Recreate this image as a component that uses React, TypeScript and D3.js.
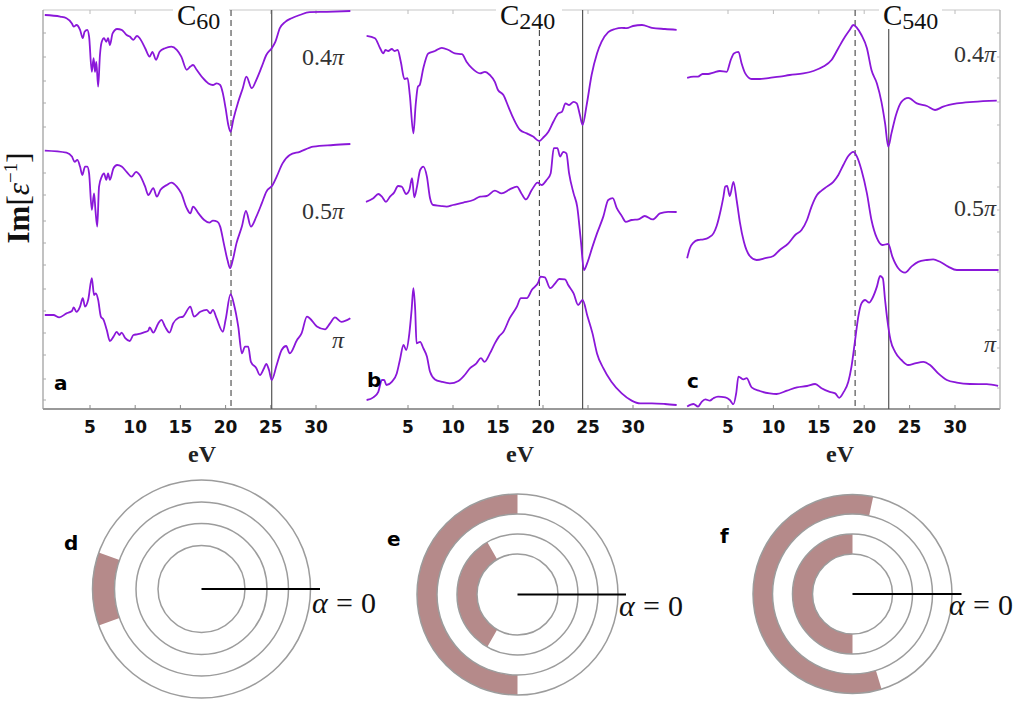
import React from 'react';
import * as d3 from 'd3';

type Pt = [number, number];

// energy axis ticks (eV) and per-panel annotations
const energyTicks = [5, 10, 15, 20, 25, 30];
const panelLetters = ['a', 'b', 'c'];
const clusterSizes = ['60', '240', '540'];
const plasmonDashed = [20.6, 19.6, 19.0];
const plasmonSolid = [25.1, 24.4, 22.7];
const curveLabels = ['0.4', '0.5', ''];
const leftTicks = [94, 88, 82, 76.5, 70.5, 59, 53.5, 47, 41.5, 36, 30, 24.5, 19, 13.5, 7.5, 2.25];
const rightTicks = [94, 88, 82.75, 76.75, 71, 61.5, 55.5, 49.75, 44.25, 38.5, 34.25, 29.75, 24.75, 19.75, 15.25, 10.25, 5.25];

// Im[1/eps] curves (eV, offset intensity)
const c60_04: Pt[] = [[0,98.5],[1.7,98.1],[2.4,97.7],[3,96.4],[3.2,95.6],[3.5,96],[3.9,94.8],[4.2,92.7],[4.4,94.3],[4.7,94.8],[4.9,93.1],[5.2,84.3],[5.4,87.7],[5.55,84.3],[5.7,86.8],[5.9,80.6],[6.1,88.5],[6.3,91.8],[6.55,92.7],[6.8,91.8],[7,92.7],[7.2,91],[7.5,93.9],[8,95],[8.5,94.8],[9.05,93.5],[9.4,93.1],[9.8,92.3],[10.2,93.3],[10.5,92.7],[11.1,90.2],[11.6,88.1],[11.9,89.3],[12.3,87.3],[12.7,89.3],[13.3,90.2],[14,90.6],[14.6,89.8],[15.1,88.1],[15.7,84.8],[16.1,85.6],[16.4,86],[16.8,84.8],[17.5,82.7],[18.1,81.4],[18.6,81],[19,81.4],[19.4,81],[19.7,78.9],[20,75.2],[20.3,71],[20.55,69.3],[20.85,72.3],[21.4,76.8],[21.9,80.2],[22.3,83.1],[22.9,80.2],[23.4,82.3],[24,85.6],[24.5,88.5],[25.1,90.2],[25.5,91.8],[26,95.2],[26.6,96.8],[27.3,97.7],[28.2,98.5],[29.3,99.2],[31.2,99.3],[33.8,99.5]];
const c60_05: Pt[] = [[0,64.6],[2.4,64.1],[3,63.1],[3.3,61.8],[3.6,62.3],[3.9,60.6],[4.15,58.5],[4.45,60.6],[4.7,60.6],[4.9,58.9],[5.2,49.8],[5.45,53.9],[5.6,49.8],[5.8,45.6],[6,55.6],[6.3,58.1],[6.55,58.9],[6.8,57.3],[7,58.9],[7.2,57.3],[7.6,60.2],[8,61],[8.5,60.6],[9.05,59.3],[9.6,58.1],[10.1,59.3],[10.5,58.5],[11.1,55.6],[11.45,53.5],[12,55.2],[12.4,53.1],[12.8,54.8],[13.5,56],[14,56.6],[14.6,55.6],[15.1,53.9],[15.7,50.2],[16.1,48.9],[16.4,50.6],[17,48.9],[17.6,47.3],[18.2,46.6],[18.6,47.1],[19.1,46.8],[19.4,45.6],[19.8,41.4],[20.2,37.3],[20.5,35.2],[20.8,37.3],[21.2,41.4],[21.8,45.6],[22.25,49.5],[22.8,45.6],[23.4,48.1],[24,51.4],[24.5,54.3],[25.2,56],[25.65,58.1],[26.3,61.4],[27.1,63.5],[28.2,64.3],[29.7,65.6],[31.9,66],[33.8,66.25]];
const c60_1: Pt[] = [[0,23.5],[0.95,23.5],[1.6,22.9],[2.4,23.9],[3,24.5],[3.2,25.4],[3.5,24.3],[3.9,25.6],[4.2,27.7],[4.45,25.6],[4.8,27.3],[5.2,32.7],[5.45,28.5],[5.65,28.9],[5.9,27.3],[6.2,23.1],[6.5,22.3],[6.85,19.8],[7.2,17],[7.6,18.1],[7.95,19.3],[8.25,18.5],[8.5,19.1],[8.9,17.7],[9.4,17],[9.8,18.5],[10.3,18.7],[10.9,19.1],[11.45,19.6],[11.6,20.4],[12,19.1],[12.55,21.4],[12.9,22.3],[13.3,20.6],[13.8,19.1],[14.2,21.4],[14.8,22.8],[15.3,23.1],[16.1,25.6],[16.5,23.1],[17.2,24.3],[17.9,24.8],[18.3,23.9],[18.6,24.8],[19,22.7],[19.7,19.3],[20,22.3],[20.55,28.7],[20.9,26.4],[21.4,20.6],[21.8,13.9],[22.15,15.6],[22.5,15.6],[22.8,11.8],[23.4,10.2],[23.8,8.5],[24.25,10.2],[24.5,11.25],[24.8,9.75],[25.1,7.25],[25.65,11],[26.2,14.75],[26.7,15.75],[27.1,13.9],[27.9,17.25],[28.4,18.9],[29,23.1],[29.3,22.7],[30.1,20.6],[31,19.9],[31.55,21.4],[32.1,22.9],[32.8,21.8],[33.8,22.7]];

const c240_04: Pt[] = [[0.4,93.3],[1.33,92.7],[1.9,90.2],[2.25,88.9],[2.5,89.75],[2.8,89.5],[3.2,90],[3.5,89.5],[3.85,89.75],[4.2,86.8],[4.6,82.5],[4.95,82.7],[5.2,78.5],[5.6,68.9],[5.85,76],[6.1,80.6],[6.3,81],[6.7,85.2],[7.25,88.9],[8,89.5],[8.75,90.3],[9.5,89.75],[10.2,88.9],[11,88.7],[11.5,86.8],[12.1,85.2],[13,83.9],[13.55,84.3],[14.1,83.5],[14.65,81.8],[15,79.75],[15.6,78.5],[16.15,75.6],[16.7,72.7],[17.45,69.75],[18.2,68.9],[18.9,68.1],[19.6,67],[20,67.8],[20.6,69.3],[21.15,71.8],[21.7,73.9],[22.1,74.3],[22.5,76.4],[22.9,76],[23.4,76.8],[23.75,76.4],[24.1,73.5],[24.4,71],[24.85,76],[25.4,83.5],[26,88.9],[26.5,91.8],[27.25,94.2],[28,95],[28.75,95.3],[29.3,95.2],[30,95.75],[31,96],[32.1,95.3],[33.55,95],[34.85,94.8]];
const c240_05: Pt[] = [[0.33,51.8],[1.15,52.7],[1.7,53.75],[2.1,53.1],[2.55,51.8],[3,53.1],[3.45,54.1],[3.9,55.75],[4.3,55.6],[4.8,53.75],[5.15,54.75],[5.45,57.7],[5.7,52.9],[6,55.6],[6.35,59.75],[6.7,60.6],[7.1,58.1],[7.45,52.7],[7.8,51],[8.55,50.8],[9.3,50.6],[10,51],[11.15,51.6],[12.25,52.25],[13,53.1],[13.75,53.25],[14.65,54.6],[15.4,53.9],[16.3,54.9],[17.1,55.6],[17.6,53.9],[18.1,52.4],[18.75,54.75],[19.4,56.6],[19.85,56],[20.4,57.25],[20.85,58.9],[21.2,65.2],[21.6,65.2],[21.9,63.1],[22.25,64.3],[22.6,63.9],[22.9,58.9],[23.4,53.9],[23.8,50.6],[24.2,42.25],[24.55,34.75],[24.9,36.4],[25.5,40.6],[26,43.9],[26.7,48.1],[27.25,52.25],[27.75,52.7],[28.2,50.2],[28.75,48.25],[29.2,46.8],[29.85,47.25],[30.6,47.4],[31.3,48.25],[32.2,47.4],[33,48.9],[33.9,49.3],[34.85,49.25]];
const c240_1: Pt[] = [[0.4,2.25],[1.15,2.9],[1.7,4.3],[2.1,7.25],[2.35,7.25],[2.6,6],[3.2,6.8],[3.75,8.9],[4.1,12.25],[4.5,16],[4.8,14.75],[5.15,18.9],[5.4,24.75],[5.6,30.2],[5.8,24.75],[5.95,16.4],[6.35,16.8],[6.7,15.2],[7.1,13.1],[7.45,9.3],[8,7.4],[8.75,6.8],[9.65,6.4],[10.6,7],[11.3,8.5],[11.9,10.2],[12.6,11.4],[13.1,12.7],[13.5,11.8],[14.1,13.9],[14.65,16.4],[15.1,18.1],[15.6,19.3],[16.3,22.7],[17.1,25.6],[17.55,27.7],[18.2,27.7],[18.75,29.75],[19.5,31.8],[19.7,33.1],[20.2,32.9],[20.8,30.2],[21.35,31.4],[21.8,32.5],[22.45,32.4],[22.8,31],[23.4,28.9],[23.9,26],[24.4,27.25],[24.95,23.1],[25.5,18.9],[26,13.9],[26.7,10.2],[27.6,6.8],[28.75,3.9],[29.85,2.1],[30.8,1.4],[32.1,1.4],[33.55,1.25],[34.85,1]];

const c540_04: Pt[] = [[0.5,82.8],[1.2,83.1],[1.7,83.1],[2.2,83.75],[2.8,83.75],[3.4,84.1],[4.1,84.5],[4.85,84.3],[5.3,87.25],[5.65,88.9],[6.15,89.3],[6.5,86.4],[6.9,83.9],[7.6,82.5],[8.5,82.5],[9.6,82.8],[10.7,83.1],[11.8,83.5],[13.3,83.9],[14.4,84.5],[15.5,85.6],[16.4,87.25],[17.15,90.2],[17.9,93.1],[18.4,94.75],[18.8,96],[19.2,95.3],[19.7,93.5],[20.3,90.2],[20.8,84.75],[21.4,81.4],[21.9,76.8],[22.3,71.4],[22.65,65.6],[23,68.9],[23.5,73.5],[24.1,76.8],[24.85,77.8],[25.8,76.4],[26.9,75.75],[27.8,74.75],[28.7,75.6],[30.2,76.4],[32,76.8],[34.6,77.1]];
const c540_05: Pt[] = [[0.5,37.7],[0.8,40.2],[1.2,41.6],[1.7,42.25],[2.3,42.4],[2.9,42.9],[3.4,43.9],[3.75,45.75],[4.2,49.75],[4.5,53.1],[4.7,55.6],[4.9,55.75],[5.2,53.25],[5.6,56.8],[5.95,52.25],[6.3,46.8],[6.75,41.8],[7.4,38.25],[8.15,37.25],[9.1,37.7],[10,38.25],[10.7,39.75],[11.65,41.4],[12.4,43.5],[13.1,44.75],[13.7,47.25],[14.2,50.6],[14.8,53.5],[15.3,54.6],[15.9,55.6],[16.6,56.8],[17.15,58.5],[17.7,61],[18.25,63.25],[18.8,64.3],[19.2,63.1],[19.7,59.75],[20.3,53.9],[20.8,47.25],[21.4,42.7],[22,41],[22.65,41.25],[23.1,38.1],[23.75,35.2],[24.5,34.1],[25.2,35.6],[25.95,36.8],[26.9,37.25],[27.6,37.4],[28.35,36.8],[29.25,35.6],[30.2,34.75],[31.65,34.75],[33.1,34.75],[34.8,34.75]];
const c540_1: Pt[] = [[0.5,0.6],[1.2,1.25],[1.7,0.6],[2.1,1.8],[2.5,2.4],[3,2.1],[3.4,2.7],[3.9,3.1],[4.7,2.9],[5.2,2.25],[5.6,1.2],[5.9,3.9],[6.15,8.1],[6.7,7.4],[7.05,7.7],[7.6,5.4],[8.5,4.5],[9.6,3.9],[10.35,3.75],[11.5,4.6],[12.6,5.4],[13.7,5.75],[14.6,6.25],[15.3,5.2],[16.2,4.3],[16.8,3.9],[17.25,2.8],[17.7,4.1],[18.25,6.8],[18.6,10.6],[19,17.25],[19.35,23.1],[19.7,26.4],[20.1,27.25],[20.55,26.6],[20.9,27.7],[21.4,30.6],[21.75,33.25],[22.05,32.7],[22.3,27.25],[22.55,22.25],[22.9,17.25],[23.4,14.3],[24.1,12.25],[24.85,11],[25.6,11.4],[26.5,11.8],[27.25,11],[28.15,8.9],[29.1,7.25],[30.2,6.6],[31.65,6.25],[33.5,6.2],[34.75,5.8]];

const panelCurves = [
  [c60_04, c60_05, c60_1],
  [c240_04, c240_05, c240_1],
  [c540_04, c540_05, c540_1],
];

// charge rings: shaded annulus (ring index, from/to angle in degrees, alpha=0 to the right)
const ringShadeD = [{ ring: 0, from: 160.5, to: 199.5 }];
const ringShadeE = [{ ring: 0, from: 90, to: 270 }, { ring: 2, from: 120, to: 240 }];
const ringShadeF = [{ ring: 0, from: 78, to: 287 }, { ring: 2, from: 90, to: 270 }];
const ringLetters = ['d', 'e', 'f'];

// layout
const W = 1022, H = 704;
const top = 10, bottom = 409;
const xRanges: [number, number][] = [[44.8, 361.2], [363, 678], [682.6, 1000.4]];
const y = d3.scaleLinear().domain([0, 100]).range([bottom, top - 1]);
const purple = '#8a17d9';
const serif = '"Liberation Serif", "DejaVu Serif", serif';
const sans = '"DejaVu Sans", sans-serif';

const titleBoxes = [
  { x: 177, end: 229 },
  { x: 500, end: 562 },
  { x: 883, end: 942 },
];
const labelSpots = [
  { x: 344, ys: [65, 219, 348], show: true },
  { x: 0, ys: [], show: false },
  { x: 996, ys: [62, 216, 352], show: true },
];
const letterSpots = [{ x: 54, y: 390 }, { x: 367, y: 387 }, { x: 687, y: 388 }];
const evCenters = [202, 520, 840];

const ringLayout = [
  { cx: 201.5, cy: 589, radii: [109, 87, 65.5, 43.5], len: 118.5, lx: 64, ly: 550, ax: 312, ay: 613, shade: ringShadeD },
  { cx: 517.5, cy: 594.5, radii: [100.5, 80.5, 60.5, 40.5], len: 108.5, lx: 387, ly: 546, ax: 619, ay: 616, shade: ringShadeE },
  { cx: 852.5, cy: 594, radii: [99.5, 80, 60, 40], len: 109, lx: 720, ly: 543, ax: 949, ay: 615, shade: ringShadeF },
];

const toD3 = (deg: number) => ((90 - deg) * Math.PI) / 180;

export default function App() {
  const arc = d3.arc<any>();
  return (
    <svg width={W} height={H} style={{ position: 'absolute', left: 0, top: 0, background: '#fff' }}>
      {/* frame */}
      <line x1={43} x2={1000} y1={top} y2={top} stroke="#c8c8c8" strokeWidth={1.2} />
      <line x1={43} x2={1000} y1={bottom} y2={bottom} stroke="#777" strokeWidth={1.3} />
      <line x1={43} x2={43} y1={top} y2={bottom} stroke="#999" strokeWidth={1.2} />
      <line x1={1000} x2={1000} y1={top} y2={bottom} stroke="#aaa" strokeWidth={1.2} />
      {leftTicks.map((t, i) => (
        <line key={'lt' + i} x1={43} x2={46} y1={y(t)} y2={y(t)} stroke="#aaa" />
      ))}
      {rightTicks.map((t, i) => (
        <line key={'rt' + i} x1={997} x2={1000} y1={y(t)} y2={y(t)} stroke="#bbb" />
      ))}

      {xRanges.map((r, p) => {
        const x = d3.scaleLinear().domain([0, 35]).range(r);
        const line = d3
          .line<Pt>()
          .x((d) => x(d[0]))
          .y((d) => y(d[1]))
          .curve(d3.curveMonotoneX);
        const tb = titleBoxes[p];
        return (
          <g key={'panel' + p}>
            {energyTicks.map((t) => (
              <g key={t}>
                <line x1={x(t)} x2={x(t)} y1={bottom} y2={bottom - 4} stroke="#888" />
                <line x1={x(t)} x2={x(t)} y1={top} y2={top + 4} stroke="#bbb" />
                <text x={x(t)} y={433} textAnchor="middle" fontFamily={sans} fontWeight="bold" fontSize={17} fill="#111">
                  {t}
                </text>
              </g>
            ))}
            <line x1={x(plasmonSolid[p])} x2={x(plasmonSolid[p])} y1={top} y2={bottom} stroke="#555" strokeWidth={1.2} />
            <line x1={x(plasmonDashed[p])} x2={x(plasmonDashed[p])} y1={top} y2={bottom} stroke="#444" strokeWidth={1.1} strokeDasharray="6,4" />
            {panelCurves[p].map((c, i) => (
              <path key={i} d={line(c) || ''} fill="none" stroke={purple} strokeWidth={1.8} strokeLinejoin="round" />
            ))}
            <rect x={tb.x - 4} y={0} width={tb.end - tb.x + 4} height={29} fill="#fff" />
            <text x={tb.x} y={25} fontFamily={serif} fontSize={29} fill="#111">
              C<tspan fontSize={24} dy={4}>{clusterSizes[p]}</tspan>
            </text>
            {labelSpots[p].show &&
              labelSpots[p].ys.map((ly, i) => (
                <text key={'lab' + i} x={labelSpots[p].x} y={ly} textAnchor="end" fontFamily={serif} fontSize={24} fill="#333">
                  {curveLabels[i]}
                  <tspan fontStyle="italic">π</tspan>
                </text>
              ))}
            <text x={letterSpots[p].x} y={letterSpots[p].y} fontFamily={sans} fontWeight="bold" fontSize={20} fill="#000">
              {panelLetters[p]}
            </text>
            <text x={evCenters[p]} y={462} textAnchor="middle" fontFamily={serif} fontSize={24} fontWeight="bold" fill="#222">
              eV
            </text>
          </g>
        );
      })}

      <text transform="translate(29,198) rotate(-90)" textAnchor="middle" fontFamily={serif} fontSize={31} fill="#111">
        <tspan fontWeight="bold">Im</tspan>[<tspan fontStyle="italic">ε</tspan>
        <tspan fontSize={19} dy={-12}>−1</tspan>
        <tspan dy={12}>]</tspan>
      </text>

      {ringLayout.map((g, k) => (
        <g key={'ring' + k}>
          {g.shade.map((s, i) => (
            <path
              key={i}
              transform={`translate(${g.cx},${g.cy})`}
              d={
                arc({
                  innerRadius: g.radii[s.ring + 1],
                  outerRadius: g.radii[s.ring],
                  startAngle: toD3(s.to),
                  endAngle: toD3(s.from),
                }) || ''
              }
              fill="#b58a8a"
            />
          ))}
          {g.radii.map((r, i) => (
            <circle key={i} cx={g.cx} cy={g.cy} r={r} fill="none" stroke="#9c9c9c" strokeWidth={1.5} />
          ))}
          <line x1={g.cx} x2={g.cx + g.len} y1={g.cy} y2={g.cy} stroke="#000" strokeWidth={2} />
          <text x={g.ax} y={g.ay} fontFamily={serif} fontSize={30} fill="#111" textLength={64} lengthAdjust="spacing">
            <tspan fontStyle="italic">α</tspan> = 0
          </text>
          <text x={g.lx} y={g.ly} fontFamily={sans} fontWeight="bold" fontSize={20} fill="#000">
            {ringLetters[k]}
          </text>
        </g>
      ))}
    </svg>
  );
}
